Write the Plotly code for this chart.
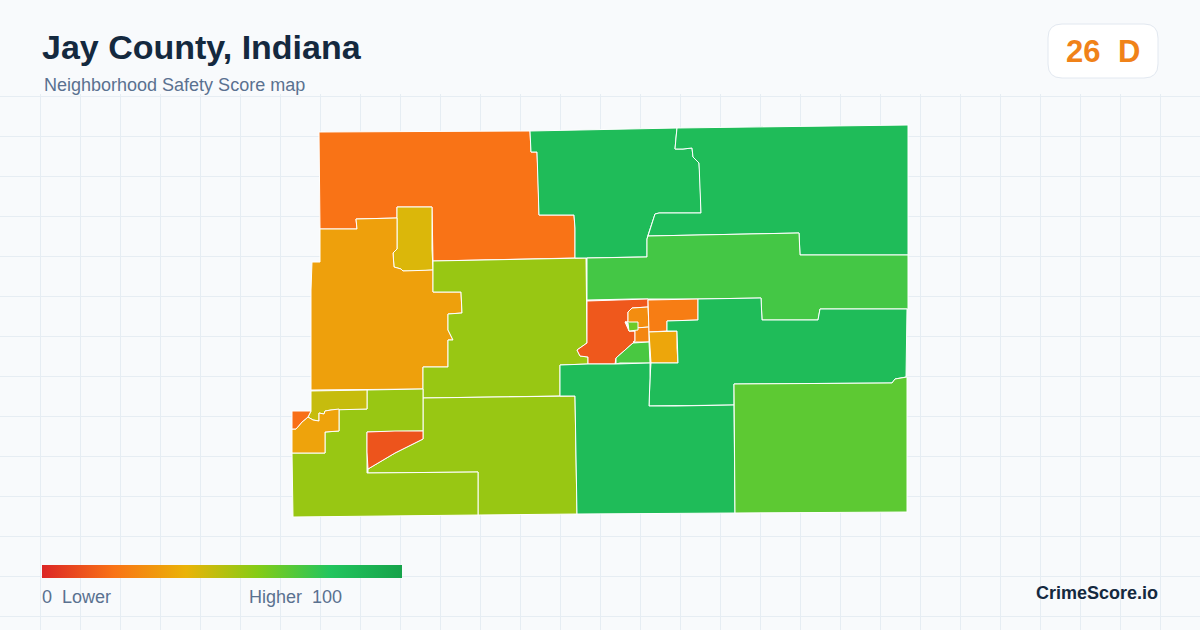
import plotly.graph_objects as go
from plotly.colors import sample_colorscale

WIDTH = 1200
HEIGHT = 630
HEADER = 94  # plot area starts just above the first grid line at y=96

# score scale, low to high (evenly spaced stops)
scale_colors = ['#dc2626', '#f97316', '#eab308', '#84cc16', '#22c55e', '#16a34a']

tract_scores = [20, 43, 34, 56, 56, 56, 12, 47, 35, 19, 85, 85, 73, 13, 28, 26, 65, 23, 36, 72, 85, 85, 68]

# outlines (x, y from top left)
nw_orange = [(319, 132), (530, 131), (531, 152), (537, 152), (538, 175), (539, 215), (574, 215), (575, 228), (575, 258),
             (520, 259), (433, 261), (432, 207), (414, 207), (397, 207), (397, 218), (356, 219), (357, 229), (320, 229)]
north_yellow = [(397, 207), (414, 207), (432, 207), (432, 249), (433, 270), (418, 271), (403, 271), (401, 269),
                (394, 267), (393, 253), (397, 249)]
west_amber = [(320, 229), (357, 229), (356, 219), (397, 218), (397, 249), (393, 253), (394, 267), (401, 269), (403, 271),
              (433, 270), (433, 292), (461, 292), (462, 313), (448, 314), (448, 330), (453, 340), (448, 340), (448, 367),
              (423, 367), (423, 389), (311, 390), (311, 290), (312, 262), (320, 262)]
center_lime = [(433, 261), (586, 258), (587, 343), (577, 350), (580, 356), (588, 357), (588, 364), (560, 365), (560, 396),
               (423, 398), (423, 367), (448, 367), (448, 340), (453, 340), (448, 330), (448, 314), (462, 313), (461, 292),
               (433, 292)]
south_lime = [(423, 398), (575, 396), (577, 514), (478, 515), (478, 472), (368, 473), (368, 469), (395, 453), (423, 439)]
sw_lime = [(367, 390), (423, 389), (423, 431), (367, 432), (367, 473), (478, 472), (478, 515), (293, 517), (292, 453),
           (325, 453), (325, 432), (339, 431), (339, 409), (367, 409)]
sw_red = [(367, 432), (395, 431), (423, 431), (423, 439), (395, 453), (368, 469), (367, 452)]
sw_olive = [(311, 391), (367, 390), (367, 409), (331, 410), (325, 411), (324, 414), (319, 413), (319, 421), (313, 420),
            (308, 417), (311, 411)]
sw_amber = [(308, 417), (313, 420), (319, 421), (319, 413), (324, 414), (325, 411), (331, 410), (339, 409), (339, 431),
            (325, 432), (325, 453), (292, 453), (292, 429), (296, 429), (302, 422)]
sw_orange = [(292, 411), (311, 411), (308, 417), (302, 422), (296, 429), (292, 429)]
north_green = [(530, 131), (677, 128), (676, 138), (675, 149), (683, 149), (692, 148), (693, 157), (699, 163), (700, 177),
               (701, 213), (659, 213), (655, 214), (648, 235), (647, 239), (647, 257), (638, 257), (587, 258), (575, 258),
               (575, 228), (574, 215), (539, 215), (538, 175), (537, 152), (531, 152)]
ne_green = [(677, 128), (908, 125), (908, 255), (800, 255), (799, 233), (648, 236), (655, 214), (659, 213), (701, 213),
            (700, 177), (699, 163), (693, 157), (692, 148), (683, 149), (675, 149), (676, 138)]
band_green = [(587, 258), (647, 257), (647, 239), (648, 236), (799, 233), (800, 255), (908, 255), (908, 309), (820, 309),
              (818, 320), (762, 320), (761, 298), (698, 299), (648, 299), (632, 299), (587, 300)]
town_red = [(587, 301), (632, 300), (648, 299), (648, 307), (632, 308), (628, 312), (628, 322), (625, 322), (629, 331),
            (635, 331), (635, 341), (633, 343), (616, 358), (615, 364), (588, 364), (588, 357), (580, 356), (577, 350),
            (587, 343)]
town_orange = [(628, 312), (632, 308), (648, 307), (649, 327), (636, 328), (635, 331), (629, 331), (628, 322)]
town_amber = [(635, 328), (649, 327), (649, 342), (633, 342), (635, 341)]
town_lime = [(625, 322), (638, 322), (638, 330), (629, 331), (628, 323)]
town_ne = [(648, 300), (698, 299), (698, 320), (667, 321), (667, 331), (649, 332)]
town_se = [(649, 332), (677, 331), (677, 348), (678, 363), (651, 363)]
town_green = [(633, 343), (649, 342), (650, 363), (620, 363), (616, 364), (616, 358)]
east_green = [(698, 299), (761, 298), (762, 320), (818, 320), (820, 309), (907, 309), (906, 377), (895, 379), (892, 383),
              (734, 384), (734, 405), (676, 406), (649, 406), (650, 378), (651, 363), (678, 363), (677, 331), (667, 331),
              (667, 321), (698, 320)]
south_green = [(560, 365), (588, 364), (615, 364), (650, 363), (650, 378), (649, 406), (676, 406), (734, 405), (735, 513),
               (577, 514), (575, 396), (560, 396)]
se_green = [(734, 384), (892, 383), (895, 379), (907, 377), (907, 512), (735, 513)]

tract_outlines = [nw_orange, north_yellow, west_amber, center_lime, south_lime, sw_lime, sw_red, sw_olive, sw_amber,
                  sw_orange, north_green, ne_green, band_green, town_red, town_orange, town_amber, town_lime, town_ne,
                  town_se, town_green, east_green, south_green, se_green]


def px_x(x):
    return x / WIDTH


def px_y(y):
    return 1 - y / HEIGHT


fig = go.Figure()

for outline, score in zip(tract_outlines, tract_scores):
    xs = [p[0] for p in outline] + [outline[0][0]]
    ys = [p[1] for p in outline] + [outline[0][1]]
    fig.add_trace(go.Scatter(x=xs, y=ys, mode='lines', fill='toself',
                             fillcolor=sample_colorscale(scale_colors, score / 100)[0],
                             line=dict(color='#ffffff', width=1), hoverinfo='skip', showlegend=False))

# carries the colour bar, markers stay invisible
fig.add_trace(go.Scatter(
    x=[sum(p[0] for p in o) / len(o) for o in tract_outlines],
    y=[sum(p[1] for p in o) / len(o) for o in tract_outlines],
    mode='markers', showlegend=False, text=[str(s) for s in tract_scores], hoverinfo='text',
    marker=dict(color=tract_scores, cmin=0, cmax=100, colorscale=scale_colors, opacity=0, size=8,
                colorbar=dict(orientation='h', lenmode='pixels', len=360, thicknessmode='pixels', thickness=13,
                              x=px_x(42), xanchor='left', y=px_y(578), yanchor='bottom', xpad=0, ypad=0,
                              outlinewidth=0, showticklabels=False, ticks=''))))


def add_text(text, x, y, size, color, bold=False, anchor='left'):
    # annotations carry 2px of padding on each side
    x = x - 2 if anchor == 'left' else x + 2
    fig.add_annotation(text=f'<b>{text}</b>' if bold else text, x=px_x(x), y=px_y(y), xref='paper', yref='paper',
                       xanchor=anchor, yanchor='middle', showarrow=False,
                       font=dict(family='Liberation Sans', size=size, color=color))


add_text('Jay County, Indiana', 42, 47, 34, '#14293f', bold=True)
add_text('Neighborhood Safety Score map', 44, 85, 18, '#5a7190')
add_text('26', 1066, 51, 31, '#f08219', bold=True)
add_text('D', 1118, 51, 31, '#f08219', bold=True)
add_text('0\u00a0\u00a0Lower', 42, 597, 18, '#5a7190')
add_text('Higher\u00a0\u00a0100', 249, 597, 18, '#5a7190')
add_text('CrimeScore.io', 1158, 593, 18, '#14293f', bold=True, anchor='right')

# score badge
bx0, bx1, by0, by1, r = px_x(1048), px_x(1158), px_y(78), px_y(24), 14
rx = r / WIDTH
ry = r / HEIGHT
badge = (f'M {bx0 + rx} {by0} L {bx1 - rx} {by0} Q {bx1} {by0} {bx1} {by0 + ry} '
         f'L {bx1} {by1 - ry} Q {bx1} {by1} {bx1 - rx} {by1} '
         f'L {bx0 + rx} {by1} Q {bx0} {by1} {bx0} {by1 - ry} '
         f'L {bx0} {by0 + ry} Q {bx0} {by0} {bx0 + rx} {by0} Z')
fig.add_shape(type='path', path=badge, xref='paper', yref='paper', fillcolor='#ffffff',
              line=dict(color='#e2e8f0', width=1))

fig.update_layout(
    width=WIDTH,
    height=HEIGHT,
    margin=dict(l=0, r=0, t=0, b=0),
    paper_bgcolor='#f8fafc',
    plot_bgcolor='#f8fafc',
    xaxis=dict(range=[0, WIDTH], tick0=0, dtick=40, showgrid=True, gridcolor='#e6edf3', gridwidth=1,
               zeroline=False, showticklabels=False, ticks='', fixedrange=True),
    yaxis=dict(range=[HEIGHT, HEADER], domain=[0, 1 - HEADER / HEIGHT], tick0=96, dtick=40, showgrid=True,
               gridcolor='#e6edf3', gridwidth=1, zeroline=False, showticklabels=False, ticks='', fixedrange=True),
)

fig.write_html("out.html", config=dict(displayModeBar=False), post_script="document.body.style.margin = 0;")
